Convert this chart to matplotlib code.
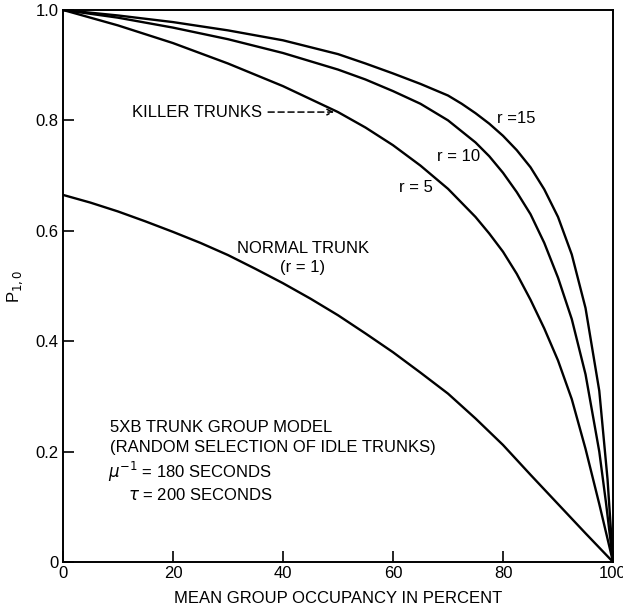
import matplotlib
matplotlib.use("Agg")
import matplotlib.pyplot as plt

# Values (occupancy %, P_1,0)
occ_r1 = [0, 5, 10, 15, 20, 25, 30, 35, 40, 45, 50, 55, 60, 65, 70, 75, 80, 85, 90, 95, 100]
p_r1 = [0.665, 0.651, 0.635, 0.617, 0.598, 0.578, 0.556, 0.531, 0.505, 0.477, 0.447,
        0.414, 0.38, 0.343, 0.305, 0.26, 0.212, 0.158, 0.105, 0.052, 0.0]

occ_r5 = [0, 10, 20, 30, 40, 50, 55, 60, 65, 70, 75, 77.5, 80, 82.5, 85, 87.5,
          90, 92.5, 95, 97.5, 100]
p_r5 = [1.0, 0.972, 0.94, 0.903, 0.862, 0.815, 0.787, 0.755, 0.718, 0.676, 0.625,
        0.595, 0.562, 0.522, 0.475, 0.423, 0.365, 0.295, 0.205, 0.105, 0.0]

occ_r10 = [0, 10, 20, 30, 40, 50, 55, 60, 65, 70, 75, 77.5, 80, 82.5, 85, 87.5,
           90, 92.5, 95, 97.5, 98.75, 100]
p_r10 = [1.0, 0.986, 0.968, 0.947, 0.922, 0.892, 0.874, 0.853, 0.83, 0.80, 0.76,
         0.735, 0.705, 0.67, 0.63, 0.578, 0.515, 0.44, 0.34, 0.20, 0.105, 0.0]

occ_r15 = [0, 10, 20, 30, 40, 50, 55, 60, 65, 70, 72.5, 75, 77.5, 80, 82.5, 85, 87.5,
           90, 92.5, 95, 97.5, 99, 100]
p_r15 = [1.0, 0.99, 0.978, 0.963, 0.945, 0.92, 0.903, 0.885, 0.866, 0.845, 0.83, 0.813,
         0.794, 0.772, 0.746, 0.715, 0.675, 0.625, 0.557, 0.46, 0.31, 0.15, 0.0]

x_ticks = [0, 20, 40, 60, 80, 100]
y_ticks = [0, 0.2, 0.4, 0.6, 0.8, 1.0]
y_ticklabels = ["0", "0.2", "0.4", "0.6", "0.8", "1.0"]

plt.rcParams["font.family"] = ["Liberation Sans", "DejaVu Sans"]
plt.rcParams["mathtext.fontset"] = "dejavusans"

fig = plt.figure(figsize=(6.23, 6.06), dpi=100)
ax = fig.add_axes([0.101, 0.0726, 0.883, 0.911])

for xs, ys in [(occ_r1, p_r1), (occ_r5, p_r5), (occ_r10, p_r10), (occ_r15, p_r15)]:
    ax.plot(xs, ys, color="black", lw=1.7, solid_joinstyle="round")

ax.set_xlim(0, 100)
ax.set_ylim(0, 1.0)
ax.set_xticks(x_ticks)
ax.set_yticks(y_ticks)
ax.set_yticklabels(y_ticklabels)
ax.tick_params(direction="in", length=8, width=1.2, labelsize=12, colors="black", pad=3)
for s in ax.spines.values():
    s.set_linewidth(1.4)

ax.set_xlabel("MEAN GROUP OCCUPANCY IN PERCENT", fontsize=12, labelpad=7)
ax.set_ylabel("P$_{1,0}$", fontsize=12, labelpad=8)

fs = 12
# curve labels
ax.text(82.4, 0.804, "r =15", fontsize=fs, ha="center", va="center")
ax.text(72.0, 0.734, "r = 10", fontsize=fs, ha="center", va="center")
ax.text(64.2, 0.678, "r = 5", fontsize=fs, ha="center", va="center")
ax.text(43.6, 0.567, "NORMAL TRUNK", fontsize=fs, ha="center", va="center")
ax.text(43.6, 0.533, "(r = 1)", fontsize=fs, ha="center", va="center")

ax.text(12.5, 0.815, "KILLER TRUNKS", fontsize=fs, ha="left", va="center")
ax.annotate("", xy=(49.3, 0.815), xytext=(37.3, 0.815),
            arrowprops=dict(arrowstyle="->", linestyle=(0, (4, 2.5)), lw=1.1,
                            color="black", shrinkA=0, shrinkB=0))

# model notes
ax.text(8.5, 0.243, "5XB TRUNK GROUP MODEL", fontsize=fs, ha="left", va="center")
ax.text(8.5, 0.208, "(RANDOM SELECTION OF IDLE TRUNKS)", fontsize=fs, ha="left", va="center")
ax.text(8.2, 0.163, r"$\mu^{-1}$ = 180 SECONDS", fontsize=fs, ha="left", va="center")
ax.text(11.8, 0.121, r"$\tau$ = 200 SECONDS", fontsize=fs, ha="left", va="center")

fig.savefig("out.png", dpi=100)
